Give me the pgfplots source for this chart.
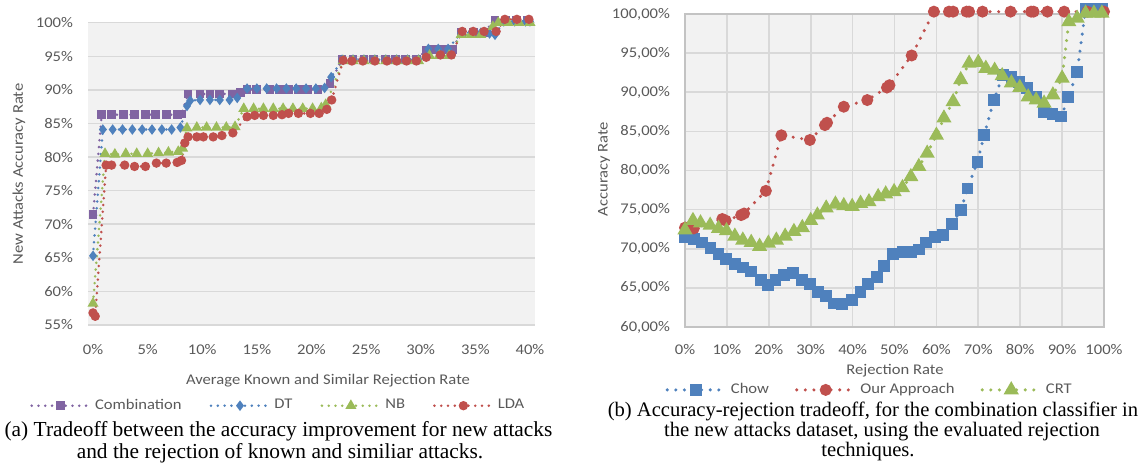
\documentclass[border=0pt]{standalone}
\usepackage{fontspec}
\setmainfont{Carlito}[FakeStretch=1.12]
\newfontfamily\capfont{Liberation Serif}
\usepackage{pgfplots}
\pgfplotsset{compat=1.18}
\definecolor{cpurple}{HTML}{8064A2}
\definecolor{cblue}{HTML}{4F81BD}
\definecolor{cgreen}{HTML}{9BBB59}
\definecolor{cred}{HTML}{C0504D}
\definecolor{txtgray}{HTML}{595959}
\definecolor{gridgray}{HTML}{D9D9D9}
\definecolor{bggray}{HTML}{F2F2F2}
\newcommand{\tf}{\fontsize{7.4}{8.5}\selectfont}
\pgfplotsset{
  excel/.style={
    scale only axis, clip=false,
    axis background/.style={fill=bggray},
    major tick length=0pt,
    tick label style={font=\tf, text=txtgray},
    legend style={draw=none, fill=none, font=\tf, text=txtgray,
      legend columns=-1, /tikz/every even column/.append style={column sep=#1}},
    legend image code/.code={\draw[mark repeat=2,mark phase=2] plot coordinates {(0pt,0pt) (14.5pt,0pt) (29pt,0pt)};},
  },
  ldot/.style={line width=1.4pt, dash pattern=on 0pt off 3.4pt, line cap=round, mark options={solid}},
  rdot/.style={line width=1.7pt, dash pattern=on 0pt off 4.3pt, line cap=round, mark options={solid}},
}
\begin{document}
\begin{tikzpicture}
\path[use as bounding box] (0,0) rectangle (570.5pt,-232.5pt);
% ---------------- left chart
\begin{axis}[excel=12pt, at={(44pt,-11.35pt)}, anchor=north west,
  width=223.5pt, height=151.15pt,
  xmin=-0.46, xmax=40.46, ymin=55, ymax=100,
  xtick={0,5,...,40}, xticklabels={0\%,5\%,10\%,15\%,20\%,25\%,30\%,35\%,40\%},
  ytick={55,60,...,100}, yticklabels={55\%,60\%,65\%,70\%,75\%,80\%,85\%,90\%,95\%,100\%},
  ymajorgrids, grid style={gridgray, line width=0.75pt},
  axis line style={draw=none},
  xticklabel shift=6pt, yticklabel shift=4pt,
  legend style={at={(rel axis cs:0.428,-0.267)}, anchor=center}]
\addplot[ldot, cpurple, mark=square*, mark size=1.5pt] coordinates {
(0,71.4)(0.8,86.3)(1.7,86.3)(2.8,86.3)(3.8,86.3)(4.8,86.3)(5.7,86.3)(6.7,86.3)(7.7,86.3)(8.1,86.4)(8.7,89.4)(9.8,89.4)(10.7,89.4)(11.6,89.4)(12.8,89.4)(13.5,89.6)(14.1,90.0)(15.0,90.1)(16.2,90.0)(17.1,90.0)(17.9,90.0)(18.8,90.0)(19.6,90.1)(20.6,90.0)(21.7,90.9)(22.8,94.6)(23.8,94.6)(24.8,94.6)(25.7,94.6)(26.8,94.5)(27.7,94.5)(28.6,94.5)(29.6,94.5)(30.5,95.9)(31.2,96.0)(32.1,96.0)(32.9,96.0)(33.7,98.6)(34.8,98.6)(35.8,98.6)(36.8,100.4)(37.8,100.4)(38.8,100.4)(39.8,100.4)};
\addlegendentry{Combination}
\addplot[ldot, cblue, mark=diamond*, mark size=1.5pt] coordinates {
(0,65.3)(0.9,84.1)(1.8,84.1)(2.7,84.1)(3.6,84.1)(4.5,84.1)(5.4,84.1)(6.3,84.1)(7.2,84.1)(8.0,84.4)(8.6,87.6)(8.9,88.4)(9.8,88.5)(10.7,88.5)(11.6,88.5)(12.5,88.5)(13.2,88.8)(14.1,90.2)(15.0,90.2)(15.9,90.2)(16.8,90.2)(17.7,90.2)(18.6,90.2)(19.5,90.2)(20.4,90.2)(21.2,90.3)(21.8,91.9)(22.8,94.5)(23.8,94.5)(24.8,94.5)(25.8,94.5)(26.8,94.5)(27.8,94.5)(28.8,94.5)(29.8,94.5)(30.7,96.1)(31.6,96.1)(32.5,96.1)(33.7,98.5)(34.6,98.5)(35.5,98.5)(36.3,98.4)(36.8,98.2)(37.6,100.2)(38.6,100.2)(39.6,100.2)(40,100.2)};
\addlegendentry{DT}
\addplot[ldot, cgreen, mark=triangle*, mark size=1.8pt] coordinates {
(0,58.2)(1.1,80.5)(2.0,80.4)(3.0,80.5)(4.0,80.5)(5.0,80.5)(6.0,80.6)(6.9,80.7)(7.8,80.8)(8.2,81.3)(8.6,84.3)(9.5,84.4)(10.4,84.4)(11.3,84.4)(12.2,84.4)(13.0,84.5)(13.8,87.2)(14.7,87.2)(15.6,87.2)(16.5,87.2)(17.4,87.2)(18.3,87.2)(19.2,87.2)(20.1,87.2)(20.9,87.3)(21.3,87.8)(22.9,94.3)(23.8,94.3)(24.8,94.3)(25.8,94.3)(26.8,94.3)(27.8,94.3)(28.8,94.3)(29.8,94.3)(30.8,95.1)(31.7,95.1)(32.6,95.1)(33.7,98.2)(34.6,98.2)(35.5,98.2)(36.6,99.4)(37.1,100.0)(38.0,100.0)(39.0,100.0)(40.0,100.0)};
\addlegendentry{NB}
\addplot[ldot, cred, mark=*, mark size=1.6pt] coordinates {
(0,56.8)(0.2,56.3)(1.2,78.8)(1.7,78.8)(2.9,78.8)(3.8,78.6)(4.8,78.6)(5.8,79.1)(6.7,79.1)(7.7,79.2)(8.1,79.5)(8.4,82.1)(8.7,83.0)(9.5,83.0)(10.1,83.0)(11.0,83.0)(11.8,83.2)(12.8,83.6)(14.1,86.0)(14.8,86.2)(15.6,86.2)(16.5,86.2)(17.3,86.3)(17.9,86.5)(18.8,86.5)(19.9,86.5)(20.7,86.5)(21.4,87.1)(21.85,88.5)(22.9,94.4)(23.7,94.3)(24.7,94.3)(25.8,94.3)(26.9,94.3)(27.8,94.3)(28.7,94.3)(29.6,94.3)(30.5,94.85)(31.8,95.2)(32.8,95.2)(33.8,98.7)(34.8,98.7)(35.8,98.7)(36.9,98.7)(37.7,100.5)(38.8,100.5)(39.9,100.5)};
\addlegendentry{LDA}
\end{axis}
% ---------------- right chart
\begin{axis}[excel=11pt, at={(342.5pt,-7pt)}, anchor=north west,
  width=209.5pt, height=156.5pt,
  xmin=0, xmax=100, ymin=60, ymax=100,
  xtick={0,10,...,100}, xticklabels={0\%,10\%,20\%,30\%,40\%,50\%,60\%,70\%,80\%,90\%,100\%},
  ytick={60,65,...,100}, yticklabels={{60,00\%},{65,00\%},{70,00\%},{75,00\%},{80,00\%},{85,00\%},{90,00\%},{95,00\%},{100,00\%}},
  grid=major, grid style={gridgray, line width=0.85pt},
  axis line style={gridgray!90!black, line width=0.85pt},
  xticklabel shift=5pt, yticklabel shift=4pt,
  legend style={at={(rel axis cs:0.443,-0.201)}, anchor=center}]
\addplot[rdot, cblue, mark=square*, mark size=2.1pt] coordinates {
(0,71.5)(2.1,71.2)(4.1,70.8)(6.1,70.1)(8.0,69.3)(9.7,68.65)(11.9,68.1)(13.8,67.6)(15.7,67.1)(18.1,66.0)(19.8,65.4)(21.6,66.0)(23.6,66.6)(25.8,66.9)(28.0,66.0)(29.8,65.5)(31.8,64.5)(33.6,64.0)(35.6,63.0)(37.5,62.9)(39.8,63.4)(41.9,64.5)(43.7,65.5)(45.9,66.35)(47.5,67.8)(49.6,69.3)(51.9,69.6)(53.9,69.6)(55.8,69.9)(57.6,70.8)(59.7,71.5)(61.6,71.8)(63.7,73.2)(65.9,74.95)(67.4,77.7)(69.8,81.1)(71.4,84.5)(73.7,89.0)(75.9,92.2)(77.9,91.9)(79.7,91.35)(81.7,90.5)(83.7,89.4)(85.7,87.5)(87.7,87.2)(89.8,86.9)(91.5,89.35)(93.6,92.6)(95.6,100.6)(97.6,100.6)(99.5,100.6)};
\addlegendentry{Chow}
\addplot[rdot, cred, mark=*, mark size=2.1pt] coordinates {
(0,72.7)(2.1,72.6)(8.9,73.8)(9.7,73.6)(13.4,74.3)(14.1,74.5)(19.3,77.4)(23.0,84.5)(29.8,83.9)(33.4,85.8)(33.9,86.1)(37.9,88.15)(43.5,89.0)(48.2,90.6)(48.8,90.9)(54.1,94.7)(59.4,100.3)(63.0,100.3)(64.0,100.3)(67.2,100.3)(67.8,100.3)(71.0,100.3)(77.7,100.3)(82.6,100.3)(83.2,100.3)(86.5,100.3)(90.5,100.3)(96.0,100.3)(100,100.3)};
\addlegendentry{Our Approach}
\addplot[rdot, cgreen, mark=triangle*, mark size=2.7pt] coordinates {
(0,72.4)(1.9,73.6)(3.7,73.3)(6.0,73.0)(8.0,72.6)(9.9,72.3)(11.9,71.6)(13.8,71.1)(15.8,70.8)(17.8,70.3)(19.9,70.7)(21.8,71.1)(23.9,71.6)(26.0,72.2)(28.0,72.7)(30.0,73.6)(31.6,74.3)(33.7,75.2)(35.9,75.7)(37.9,75.5)(39.9,75.4)(41.9,75.8)(43.9,76.0)(46.1,76.65)(47.9,77.0)(49.9,77.3)(51.9,77.8)(53.9,79.2)(55.8,80.5)(57.8,82.2)(60.0,84.5)(61.8,86.7)(64.0,88.8)(65.8,91.6)(67.8,93.7)(70.0,93.8)(71.8,93.05)(73.9,92.8)(75.7,92.1)(77.9,91.2)(79.9,90.6)(81.9,89.4)(83.8,89.0)(85.7,88.6)(87.8,89.65)(90.0,91.8)(91.6,99.0)(93.6,99.45)(95.6,100.1)(97.6,100.1)(99.5,100.1)};
\addlegendentry{CRT}
\end{axis}
% ---------------- texts
\begin{scope}[x=0.5pt,y=-0.5pt]
\node[rotate=90, font=\tf, text=txtgray] at (19,174) {New Attacks Accuracy Rate};
\node[font=\tf, text=txtgray] at (328,381) {Average Known and Similar Rejection Rate};
\node[rotate=90, font=\tf, text=txtgray] at (604,169) {Accuracy Rate};
\node[font=\tf, text=txtgray] at (895,371) {Rejection Rate};
\node[font=\capfont\fontsize{10.7}{12}\selectfont, inner sep=0pt] at (278.5,431) {(a) Tradeoff between the accuracy improvement for new attacks};
\node[font=\capfont\fontsize{10.7}{12}\selectfont, inner sep=0pt] at (280,453) {and the rejection of known and similiar attacks.};
\node[font=\capfont\fontsize{10.3}{12}\selectfont, inner sep=0pt] at (873,411) {(b) Accuracy-rejection tradeoff, for the combination classifier in};
\node[font=\capfont\fontsize{10.3}{12}\selectfont, inner sep=0pt] at (882,432) {the new attacks dataset, using the evaluated rejection};
\node[font=\capfont\fontsize{10.3}{12}\selectfont, inner sep=0pt] at (868,452) {techniques.};
\end{scope}
\end{tikzpicture}
\end{document}
